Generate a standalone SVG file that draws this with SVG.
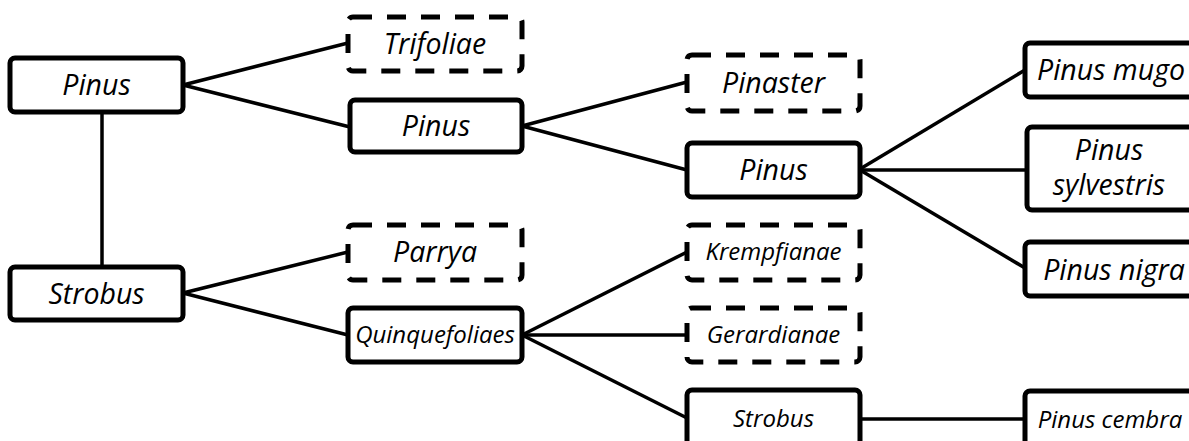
<svg xmlns="http://www.w3.org/2000/svg" width="1189" height="441" viewBox="0 0 1189 441">
  <style>
    .box { fill: #ffffff; stroke: #000000; stroke-width: 5; }
    .dash { stroke-dasharray: 19 15; }
    .lbl { font-family: "Open Sans", "Noto Sans", sans-serif; font-style: italic; fill: #000000; text-anchor: middle; }
    .lg { font-size: 28.5px; }
    .sm { font-size: 24px; }
    .edge { stroke: #000000; stroke-width: 3.5; fill: none; }
  </style>
  <rect width="1189" height="441" fill="#ffffff"/>

  <!-- connectors -->
  <g id="connectors" class="edge">
    <line x1="102" y1="112" x2="102" y2="267"/>
    <line x1="183" y1="85" x2="348" y2="43"/>
    <line x1="183" y1="85" x2="350" y2="127"/>
    <line x1="183" y1="293" x2="348" y2="252"/>
    <line x1="183" y1="293" x2="348" y2="335"/>
    <line x1="522" y1="126" x2="687" y2="82"/>
    <line x1="522" y1="126" x2="687" y2="170"/>
    <line x1="860" y1="169" x2="1025" y2="70"/>
    <line x1="860" y1="170" x2="1027" y2="170"/>
    <line x1="860" y1="170" x2="1025" y2="268"/>
    <line x1="522" y1="335" x2="687" y2="252"/>
    <line x1="522" y1="335" x2="687" y2="335"/>
    <line x1="522" y1="335" x2="687" y2="418"/>
    <line x1="860" y1="419" x2="1025" y2="419"/>
  </g>

  <!-- genus level -->
  <g id="n-pinus">
    <rect class="box" x="10" y="58" width="173" height="54" rx="5"/>
    <text class="lbl lg" x="96.5" y="95">Pinus</text>
  </g>
  <g id="n-strobus">
    <rect class="box" x="10" y="267" width="173" height="53" rx="5"/>
    <text class="lbl lg" x="96.5" y="304">Strobus</text>
  </g>

  <!-- subsections under Pinus -->
  <g id="n-trifoliae">
    <rect class="box dash" x="348" y="17" width="174" height="54" rx="5"/>
    <text class="lbl lg" x="435" y="54">Trifoliae</text>
  </g>
  <g id="n-pinus-sect">
    <rect class="box" x="350" y="100" width="172" height="52" rx="5"/>
    <text class="lbl lg" x="436" y="136">Pinus</text>
  </g>

  <!-- subsections under Strobus -->
  <g id="n-parrya">
    <rect class="box dash" x="348" y="225" width="174" height="55" rx="5"/>
    <text class="lbl lg" x="435" y="262">Parrya</text>
  </g>
  <g id="n-quinquefoliaes">
    <rect class="box" x="348" y="308" width="174" height="54" rx="5"/>
    <text class="lbl sm" x="435" y="343">Quinquefoliaes</text>
  </g>

  <!-- third level -->
  <g id="n-pinaster">
    <rect class="box dash" x="687" y="55" width="173" height="56" rx="5"/>
    <text class="lbl lg" x="773.5" y="93">Pinaster</text>
  </g>
  <g id="n-pinus-sub">
    <rect class="box" x="687" y="143" width="173" height="54" rx="5"/>
    <text class="lbl lg" x="773.5" y="180">Pinus</text>
  </g>
  <g id="n-krempfianae">
    <rect class="box dash" x="687" y="225" width="173" height="55" rx="5"/>
    <text class="lbl sm" x="773.5" y="260">Krempfianae</text>
  </g>
  <g id="n-gerardianae">
    <rect class="box dash" x="687" y="308" width="173" height="54" rx="5"/>
    <text class="lbl sm" x="773.5" y="343">Gerardianae</text>
  </g>
  <g id="n-strobus-sub">
    <rect class="box" x="687" y="390" width="173" height="56" rx="5"/>
    <text class="lbl sm" x="773.5" y="427">Strobus</text>
  </g>

  <!-- species -->
  <g id="n-mugo">
    <rect class="box" x="1025" y="43" width="200" height="54" rx="5"/>
    <text class="lbl lg" x="1111" y="80">Pinus mugo</text>
  </g>
  <g id="n-sylvestris">
    <rect class="box" x="1027" y="127" width="200" height="83" rx="5"/>
    <text class="lbl lg" x="1109" y="160">Pinus</text>
    <text class="lbl lg" x="1109" y="195">sylvestris</text>
  </g>
  <g id="n-nigra">
    <rect class="box" x="1025" y="242" width="200" height="54" rx="5"/>
    <text class="lbl lg" x="1114" y="280">Pinus nigra</text>
  </g>
  <g id="n-cembra">
    <rect class="box" x="1025" y="391" width="200" height="56" rx="5"/>
    <text class="lbl sm" x="1110" y="428">Pinus cembra</text>
  </g>
</svg>
